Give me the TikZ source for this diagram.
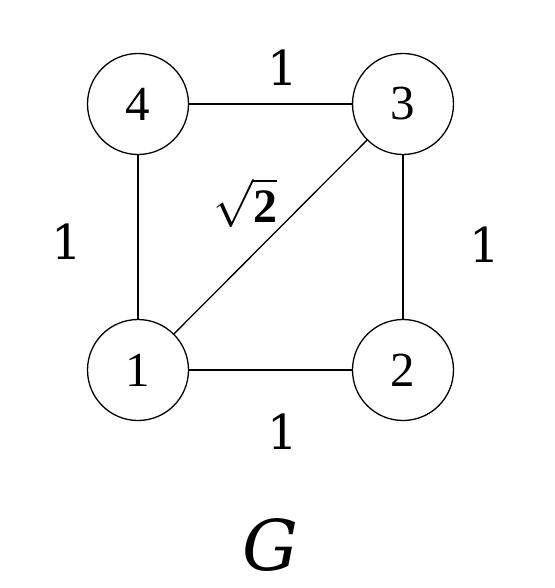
\documentclass[tikz,border=0pt]{standalone}
\usepackage{fontspec}
\usepackage{graphicx}
\setmainfont{Liberation Serif}
\newfontfamily\lblfont{DejaVu Serif}
\begin{document}
\begin{tikzpicture}[x=1pt,y=-1pt,
  vertex/.style={circle,draw,line width=1.3pt,minimum size=101pt,inner sep=0pt,font=\fontsize{49}{52}\selectfont},
  edge/.style={line width=1.3pt},
  wlabel/.style={font=\lblfont\fontsize{48}{52}\selectfont}]
\useasboundingbox (0,0) rectangle (554,588);
\node[vertex] (n4) at (138,104) {4};
\node[vertex] (n3) at (403,104) {3};
\node[vertex] (n1) at (138,370) {1};
\node[vertex] (n2) at (403,370) {2};
\draw[edge] (n4) -- (n3);
\draw[edge] (n4) -- (n1);
\draw[edge] (n3) -- (n2);
\draw[edge] (n1) -- (n2);
\draw[edge] (n1) -- (n3);
\node[wlabel] (l43) at (283,68) {1};
\node[wlabel] (l41) at (67,242) {1};
\node[wlabel] (l32) at (485,245) {1};
\node[wlabel] (l12) at (283,432) {1};
\node (l13) at (245,203) {\scalebox{4.8}{$\sqrt{\mathbf{2}}$}};
\node[font=\lblfont\itshape\fontsize{70}{74}\selectfont] (g) at (270,545) {G};
\end{tikzpicture}
\end{document}
